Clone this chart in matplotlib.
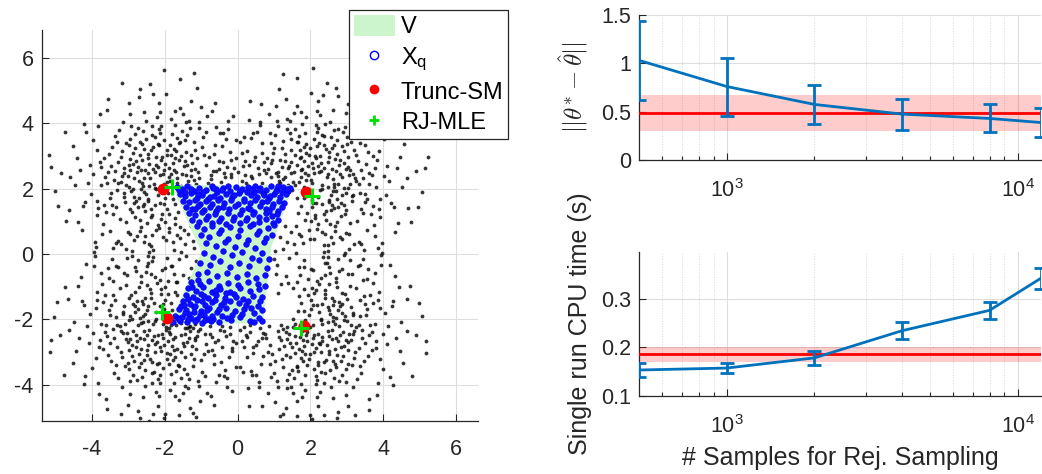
import matplotlib
matplotlib.use('Agg')
import matplotlib.pyplot as plt
from matplotlib.patches import Polygon, Patch
from matplotlib.lines import Line2D
from matplotlib.ticker import FixedLocator, NullFormatter

plt.rcParams['font.family'] = ['Liberation Sans', 'DejaVu Sans']
plt.rcParams['axes.unicode_minus'] = False
plt.rcParams['mathtext.fontset'] = 'cm'

# ---------------- data: left panel ----------------
V_x = [-1.81, 1.53, 0.93, 0.70, -1.86, -0.99]
V_y = [2.10, 2.10, 0.22, -2.12, -2.12, 0.05]

trunc_sm_x = [-2.06, 1.87, -1.95, 1.82]
trunc_sm_y = [2.00, 1.88, -1.94, -2.20]
rj_mle_x = [-1.81, 2.05, -2.07, 1.75]
rj_mle_y = [2.04, 1.78, -1.78, -2.27]

cloud_nw = [(-2.13,2.41),(-1.62,2.87),(-2.85,1.73),(-3.12,2.64),(-1.94,1.38),(-2.47,3.05),(-1.28,2.55),(-2.71,2.22),(-3.46,1.51),(-2.02,3.48),
(-2.38,1.12),(-1.75,3.21),(-2.96,2.91),(-3.63,2.35),(-2.25,0.74),(-1.41,3.12),(-2.61,1.46),(-3.05,3.38),(-1.88,2.63),(-2.54,2.58),
(-3.31,1.94),(-1.12,2.94),(-2.19,1.79),(-2.83,3.67),(-1.67,2.31),(-3.78,2.81),(-2.42,0.31),(-0.86,2.73),(-2.07,2.96),(-3.22,1.08),
(-1.52,3.76),(-2.66,1.97),(-4.11,2.17),(-2.34,3.92),(-1.98,1.71),(-3.01,0.66),(-0.62,3.34),(-2.77,2.49),(-1.83,4.12),(-3.54,3.06),
(-2.29,2.15),(-1.36,2.24),(-3.87,1.62),(-2.58,4.35),(-1.71,1.09),(-4.42,2.92),(-2.91,1.27),(-0.95,3.58),(-3.38,2.27),(-2.05,0.51),
(-1.47,2.69),(-2.45,1.62),(-3.15,4.02),(-0.41,2.81),(-2.89,0.08),(-1.93,3.19),(-3.69,0.93),(-2.17,4.61),(-1.21,3.41),(-2.63,2.86),
(-3.97,3.47),(-2.35,-0.22),(-1.58,4.45),(-4.63,1.35),(-2.81,3.24),(-1.05,2.32),(-3.27,0.41),(-2.51,1.84),(-0.22,3.12),(-3.48,2.69),
(-1.79,2.06),(-2.72,4.78),(-4.28,0.72),(-2.24,2.73),(-1.33,4.06),(-3.09,1.58),(-0.73,2.41),(-3.82,3.92),(-1.89,0.79),(-2.97,2.05),
(-1.66,3.55),(-4.85,2.48),(-2.48,0.96),(-3.61,1.27),(-0.58,3.89),(-2.12,3.69),(-1.24,2.78),(-3.36,3.61),(-2.69,1.04),(-4.02,1.84),
(-1.96,4.88),(-2.83,-0.41),(-0.35,2.34),(-3.19,2.96),(-1.71,1.52),(-2.33,3.27),(-3.74,2.11),(-1.07,3.86),(-2.56,2.33),(-4.51,3.31),
(-2.08,1.23),(-3.42,0.17),(-1.42,2.42),(-2.94,4.27),(-0.11,2.63),(-3.85,1.18),(-2.26,2.02),(-1.72,3.93),(-3.13,1.86),(-2.41,5.18),
(-4.33,2.58),(-1.18,3.18),(-2.76,0.55),(-0.83,4.21),(-3.57,2.51),(-2.19,3.35),(-1.54,2.98),(-3.92,0.38),(-2.61,3.75),(-1.87,2.35),
(-5.02,1.93),(-2.99,2.71),(-0.49,3.68),(-2.37,1.36),(-3.26,3.78),(-1.29,4.68),(-2.85,1.55),(-4.16,3.72),(-2.03,2.58),(-3.51,1.72),
(-1.61,3.38),(-2.74,2.67),(0.08,3.42),(-3.03,-0.13),(-2.22,4.19),(-1.95,2.21),(-3.67,2.93),(-2.52,3.51),(-1.16,2.61),(-4.71,1.02),
(-2.87,3.09),(-2.31,0.12),(-0.91,3.02),(-3.34,1.43),(-2.16,3.81),(-1.78,2.79),(-4.24,1.47),(-2.59,2.09),(-1.38,3.64),(-3.45,3.28),
(-2.65,-0.68),(-0.67,2.52),(-3.96,2.44),(-2.11,2.87),(-2.93,1.91),(-1.49,4.27),(-3.73,0.61),(-2.43,2.76),(-0.26,4.05),(-3.18,2.37),
(-1.83,3.02),(-2.79,1.62),(-4.47,2.11),(-2.27,3.58),(-1.32,2.07),(-3.59,4.41),(-2.01,5.62),(-2.68,3.42),(-1.01,4.48),(-3.29,2.18),
(-2.47,1.69),(-5.18,3.02),(-1.69,2.51),(-2.95,3.52),(-3.83,1.41),
(-1.85,2.22),(-1.52,2.45),(-2.32,2.61),(-2.58,1.88),(-1.99,2.74),(-2.41,2.31),(-2.79,2.83),(-1.74,2.58),(-2.12,1.57),(-2.66,2.56),
(-1.91,1.86),(-2.24,2.97),(-3.02,2.38),(-1.45,2.83),(-2.53,1.32),(-2.02,2.13),(-2.88,1.98),(-1.66,2.16),(-2.39,3.19),(-3.21,2.19),
(-1.78,1.69),(-2.15,3.34),(-2.71,1.71),(-1.27,3.02),(-2.94,2.58),(-1.98,0.98),(-2.47,2.92),(-3.37,2.53),(-1.59,3.41),(-2.28,1.49),
(-1.81,3.66),(-2.62,3.36),(-3.12,1.74),(-1.09,2.49),(-2.06,2.43),(-2.85,2.32),(-1.63,1.27),(-2.44,2.07),(-3.48,1.86),(-1.93,3.03),
(-2.69,3.02),(-1.38,2.71),(-2.19,0.88),(-3.16,3.14),(-1.72,2.92),(-2.57,1.53),(-0.98,3.27),(-2.34,3.63),(-3.28,2.81),(-1.88,1.21),
(-2.81,1.13),(-1.54,2.08),(-2.11,3.92),(-3.59,2.17),(-1.21,2.25),(-2.64,0.82),(-1.69,3.14),(-2.98,3.32),(-2.23,1.98),(-1.45,3.48),
(-3.41,1.23),(-2.51,4.06),(-0.79,2.96),(-1.96,0.42),(-2.88,2.76),(-1.61,1.73),(-3.75,2.66),(-2.18,2.66),(-1.32,3.85),(-2.74,1.45),
(-2.03,1.52),(-3.06,2.11),(-1.83,2.43),(-2.36,0.58),(-0.64,3.06),(-2.93,3.91),(-1.57,0.82),(-3.32,3.42),(-2.46,2.47),(-1.14,2.13),
(-2.09,1.06),(-3.68,1.49),(-1.71,4.37),(-2.56,3.21),(-1.28,2.37),(-3.05,0.97),(-2.27,2.49),(-0.52,2.61),(-2.73,3.85),(-4.06,2.72),
(-1.47,1.92),(-2.35,1.18),(-3.13,2.46),(-1.85,3.33),(-2.62,2.16),(-4.19,1.58),(-0.87,3.74),(-2.14,4.33),(-3.51,0.71),(-1.67,0.58),
(-2.95,1.37),(-1.41,4.02),(-2.44,0.05),(-3.86,3.19),(-1.05,4.02),(-2.31,4.89),(-4.61,2.34),(-0.33,3.52),(-3.33,-0.36),(-2.67,5.03),
(-1.77,0.37),(-4.37,0.98),(-0.18,2.44),(-3.78,4.28),(-1.12,5.08),(-2.99,4.61),(-4.93,1.48),(0.21,2.83),(-2.52,-0.55),(-3.56,4.73),
(-1.59,5.35),(-5.11,2.65),(-0.62,4.61),(-4.21,3.97),(-2.14,-0.78),(-3.91,-0.07),(0.42,3.71),(-4.75,3.72),(-1.21,5.52),(-3.17,5.21)]

cloud_ne = [(2.24,2.51),(1.71,2.93),(2.86,1.81),(3.09,2.57),(2.03,1.42),(2.52,3.11),(1.38,2.62),(2.77,2.15),(3.51,1.58),(2.11,3.52),
(2.43,1.05),(1.82,3.28),(3.02,2.96),(3.68,2.41),(2.31,0.68),(1.47,3.17),(2.66,1.41),(3.11,3.43),(1.93,2.68),(2.58,2.61),
(3.37,1.87),(1.16,2.88),(2.21,1.73),(2.89,3.72),(1.73,2.36),(3.83,2.87),(2.48,0.27),(0.91,2.77),(2.12,2.98),(3.27,1.02),
(1.58,3.81),(2.71,1.93),(4.15,2.23),(2.39,3.96),(2.04,1.66),(3.06,0.61),(0.66,3.38),(2.82,2.44),(1.88,4.17),(3.59,3.12),
(2.33,2.12),(1.52,2.21),(3.92,1.68),(2.63,4.41),(1.84,1.05),(4.47,2.97),(2.96,1.22),(1.02,3.63),(3.43,2.32),(2.11,0.46),
(1.63,2.73),(2.51,1.58),(3.19,4.08),(0.45,2.84),(2.94,0.03),(1.98,3.23),(3.74,0.88),(2.22,4.66),(1.26,3.46),(2.68,2.91),
(4.01,3.52),(2.41,-0.27),(1.62,4.51),(4.68,1.39),(2.86,3.29),(1.12,2.37),(3.32,0.36),(2.56,1.79),(0.27,3.16),(3.53,2.74),
(1.81,2.04),(2.77,4.83),(4.33,0.67),(2.29,2.78),(1.37,4.11),(3.14,1.63),(0.78,2.46),(3.87,3.97),(1.95,0.74),(3.02,2.01),
(1.69,3.59),(4.91,2.53),(2.53,0.91),(3.66,1.22),(0.61,3.94),(2.17,3.74),(1.29,2.83),(3.41,3.66),(2.74,0.99),(4.07,1.79),
(2.01,4.93),(2.88,-0.46),(0.38,2.39),(3.24,3.01),(1.75,1.47),(2.38,3.32),(3.79,2.06),(1.11,3.91),(2.61,2.28),(4.56,3.36),
(2.13,1.18),(3.47,0.12),(1.46,2.47),(2.99,4.32),(0.14,2.68),(3.91,1.13),(2.31,1.97),(1.77,3.98),(3.18,1.81),(2.46,5.23),
(4.38,2.63),(1.23,3.23),(2.81,0.51),(0.87,4.26),(3.62,2.46),(2.24,3.39),(1.59,3.03),(3.97,0.33),(2.66,3.79),(1.92,2.41),
(5.07,1.88),(3.04,2.66),(0.53,3.73),(2.42,1.31),(3.31,3.83),(1.33,4.73),(2.91,1.51),(4.21,3.77),(2.08,2.63),(3.56,1.67),
(1.66,3.43),(2.79,2.72),(-0.04,3.47),(3.08,-0.18),(2.27,4.24),(2.01,2.26),(3.72,2.98),(2.57,3.56),(1.21,2.66),(4.76,0.97),
(2.92,3.14),(2.36,0.07),(0.96,3.07),(3.39,1.38),(2.21,3.86),(1.83,2.84),(4.29,1.42),(2.64,2.04),(1.43,3.69),(3.51,3.33),
(2.71,-0.73),(0.72,2.57),(4.01,2.39),(2.16,2.92),(2.98,1.86),(1.54,4.32),(3.78,0.56),(2.48,2.81),(0.31,4.09),(3.23,2.32),
(1.88,3.07),(2.84,1.57),(4.52,2.06),(2.32,3.63),(1.38,2.12),(3.64,4.46),(2.06,5.67),(2.73,3.47),(1.06,4.53),(3.34,2.13),
(2.52,1.64),(5.23,2.97),(1.74,2.56),(3.01,3.57),(3.88,1.36),
(1.88,2.27),(1.55,2.49),(2.36,2.63),(2.61,1.91),(2.03,2.77),(2.45,2.34),(2.82,2.86),(1.77,2.61),(2.16,1.55),(2.69,2.53),
(1.95,1.88),(2.27,2.99),(3.05,2.41),(1.48,2.81),(2.56,1.35),(2.05,2.16),(2.91,2.01),(1.69,2.19),(2.42,3.21),(3.24,2.22),
(1.81,1.72),(2.18,3.31),(2.74,1.68),(1.31,3.05),(2.97,2.61),(2.01,1.01),(2.5,2.95),(3.4,2.56),(1.62,3.43),(2.31,1.52),
(1.84,3.68),(2.65,3.33),(3.15,1.77),(1.12,2.51),(2.09,2.46),(2.88,2.35),(1.66,1.24),(2.47,2.04),(3.51,1.83),(1.96,3.01),
(2.72,3.05),(1.41,2.68),(2.22,0.91),(3.19,3.17),(1.75,2.95),(2.6,1.5),(1.01,3.24),(2.37,3.61),(3.31,2.84),(1.91,1.24),
(2.84,1.16),(1.57,2.11),(2.14,3.95),(3.62,2.14),(1.24,2.28),(2.67,0.85),(1.72,3.17),(3.01,3.35),(2.26,1.95),(1.48,3.51),
(3.44,1.26),(2.54,4.03),(0.82,2.93),(1.99,0.45),(2.91,2.79),(1.64,1.71),(3.78,2.63),(2.21,2.69),(1.35,3.82),(2.77,1.42),
(2.06,1.55),(3.09,2.14),(1.86,2.46),(2.39,0.61),(0.67,3.09),(2.96,3.88),(1.6,0.85),(3.35,3.39),(2.49,2.44),(1.17,2.16),
(2.12,1.09),(3.71,1.46),(1.74,4.34),(2.59,3.24),(1.31,2.34),(3.08,0.94),(2.3,2.52),(0.55,2.64),(2.76,3.82),(4.09,2.69),
(1.5,1.95),(2.38,1.21),(3.16,2.43),(1.88,3.36),(2.65,2.13),(4.22,1.55),(0.9,3.71),(2.17,4.36),(3.54,0.74),(1.7,0.61),
(2.98,1.34),(1.44,4.05),(2.47,0.08),(3.89,3.16),(1.08,4.05),(2.34,4.86),(4.64,2.31),(0.36,3.55),(3.36,-0.33),(2.7,5.06),
(1.8,0.34),(4.4,0.95),(0.21,2.41),(3.81,4.25),(1.15,5.05),(3.02,4.58),(4.96,1.45),(-0.18,2.86),(2.55,-0.58),(3.59,4.7),
(1.62,5.38),(5.14,2.62),(0.65,4.58),(4.24,3.94),(2.17,-0.81),(3.94,-0.04),(-0.39,3.68),(4.78,3.69),(1.24,5.49),(3.2,5.18)]

cloud_sw = [(-2.19,-2.46),(-1.67,-2.91),(-2.83,-1.77),(-3.06,-2.61),(-1.99,-1.41),(-2.49,-3.08),(-1.33,-2.58),(-2.74,-2.18),(-3.48,-1.55),(-2.06,-3.49),
(-2.41,-1.08),(-1.78,-3.24),(-2.99,-2.93),(-3.65,-2.38),(-2.28,-0.71),(-1.44,-3.14),(-2.63,-1.43),(-3.08,-3.41),(-1.91,-2.65),(-2.56,-2.59),
(-3.34,-1.91),(-1.14,-2.91),(-2.23,-1.76),(-2.86,-3.69),(-1.96,-2.33),(-3.81,-2.84),(-2.45,-0.29),(-0.88,-2.75),(-2.09,-2.97),(-3.24,-1.05),
(-1.55,-3.79),(-2.69,-1.95),(-4.13,-2.19),(-2.36,-3.94),(-2.01,-1.69),(-3.03,-0.63),(-0.64,-3.36),(-2.79,-2.47),(-1.85,-4.15),(-3.56,-3.09),
(-2.31,-2.13),(-1.39,-2.27),(-3.89,-1.65),(-2.6,-4.38),(-1.73,-1.16),(-4.44,-2.95),(-2.93,-1.24),(-0.97,-3.61),(-3.41,-2.29),(-2.07,-0.49),
(-1.49,-2.71),(-2.47,-1.6),(-3.17,-4.05),(-0.43,-2.83),(-2.91,-0.06),(-1.95,-3.21),(-3.71,-0.91),(-2.19,-4.63),(-1.23,-3.43),(-2.65,-2.89),
(-3.99,-3.49),(-2.37,0.24),(-1.61,-4.47),(-4.65,-1.37),(-2.84,-3.27),(-1.08,-2.35),(-3.29,-0.39),(-2.53,-1.82),(-0.24,-3.14),(-3.5,-2.71),
(-1.82,-2.17),(-2.74,-4.8),(-4.3,-0.7),(-2.26,-2.75),(-1.35,-4.08),(-3.11,-1.6),(-0.75,-2.43),(-3.84,-3.94),(-1.91,-0.81),(-2.99,-2.03),
(-1.68,-3.57),(-4.87,-2.46),(-2.5,-0.94),(-3.63,-1.25),(-0.6,-3.91),(-2.14,-3.71),(-1.26,-2.8),(-3.38,-3.63),(-2.71,-1.02),(-4.04,-1.82),
(-1.98,-4.9),(-2.85,0.43),(-0.37,-2.36),(-3.21,-2.98),(-1.82,-1.5),(-2.35,-3.29),(-3.76,-2.13),(-1.09,-3.88),(-2.58,-2.35),(-4.53,-3.33),
(-2.1,-1.21),(-3.44,-0.15),(-1.44,-2.44),(-2.96,-4.29),(-0.13,-2.65),(-3.87,-1.16),(-2.28,-2.04),(-1.74,-3.95),(-3.15,-1.84),(-2.43,-5.1),
(-4.35,-2.56),(-1.2,-3.2),(-2.78,-0.53),(-0.85,-4.23),(-3.59,-2.49),(-2.21,-3.37),(-1.56,-3.0),(-3.94,-0.36),(-2.63,-3.77),(-1.89,-2.37),
(-5.04,-1.91),(-3.01,-2.69),(-0.51,-3.7),(-2.39,-1.34),(-3.28,-3.8),(-1.31,-4.7),(-2.87,-1.53),(-4.18,-3.74),(-2.05,-2.56),(-3.53,-1.7),
(-1.63,-3.4),(-2.76,-2.65),(0.06,-3.44),(-3.05,0.15),(-2.24,-4.21),(-1.97,-2.23),(-3.69,-2.91),(-2.54,-3.53),(-1.18,-2.63),(-4.73,-1.0),
(-2.89,-3.11),(-2.33,-0.1),(-0.93,-3.04),(-3.36,-1.41),(-2.18,-3.83),(-1.8,-2.81),(-4.26,-1.45),(-2.61,-2.07),(-1.4,-3.66),(-3.47,-3.26),
(-2.67,0.7),(-0.69,-2.54),(-3.98,-2.42),(-2.13,-2.85),(-2.95,-1.89),(-1.51,-4.25),(-3.75,-0.59),(-2.45,-2.78),(-0.28,-4.07),(-3.2,-2.35),
(-1.85,-3.04),(-2.81,-1.6),(-4.49,-2.09),(-2.29,-3.6),(-1.34,-2.24),(-3.61,-4.43),(-2.03,-5.0),(-2.7,-3.44),(-1.03,-4.5),(-3.31,-2.16),
(-2.49,-1.71),(-5.15,-3.0),(-1.71,-2.53),(-2.97,-3.5),(-3.85,-1.39),
(-1.88,-2.25),(-1.55,-2.47),(-2.34,-2.64),(-2.6,-1.9),(-2.01,-2.77),(-2.43,-2.33),(-2.8,-2.85),(-1.76,-2.6),(-2.14,-1.59),(-2.68,-2.55),
(-1.93,-1.87),(-2.26,-2.98),(-3.04,-2.4),(-1.47,-2.82),(-2.55,-1.34),(-2.04,-2.15),(-2.9,-2.0),(-1.68,-2.18),(-2.41,-3.2),(-3.23,-2.21),
(-1.8,-1.71),(-2.17,-3.32),(-2.73,-1.69),(-1.29,-3.04),(-2.96,-2.6),(-2.0,-1.0),(-2.49,-2.94),(-3.39,-2.55),(-1.61,-3.42),(-2.3,-1.51),
(-1.83,-3.67),(-2.64,-3.34),(-3.14,-1.76),(-1.11,-2.5),(-2.08,-2.45),(-2.87,-2.34),(-1.65,-1.25),(-2.46,-2.06),(-3.5,-1.85),(-1.95,-3.02),
(-2.71,-3.04),(-1.4,-2.7),(-2.21,-0.9),(-3.18,-3.16),(-1.74,-2.94),(-2.59,-1.52),(-1.0,-3.25),(-2.36,-3.62),(-3.3,-2.83),(-1.9,-1.23),
(-2.83,-1.15),(-1.56,-2.1),(-2.13,-3.93),(-3.61,-2.16),(-1.23,-2.27),(-2.66,-0.84),(-1.71,-3.16),(-3.0,-3.34),(-2.25,-1.97),(-1.47,-3.5),
(-3.43,-1.25),(-2.53,-4.04),(-0.81,-2.95),(-1.98,-0.44),(-2.9,-2.78),(-1.63,-1.72),(-3.77,-2.64),(-2.2,-2.68),(-1.34,-3.83),(-2.76,-1.44),
(-2.05,-1.54),(-3.08,-2.13),(-1.85,-2.45),(-2.38,-0.6),(-0.66,-3.08),(-2.95,-3.89),(-1.69,-0.84),(-3.34,-3.4),(-2.48,-2.46),(-1.16,-2.15),
(-2.11,-1.08),(-3.7,-1.48),(-1.73,-4.35),(-2.58,-3.23),(-1.3,-2.36),(-3.07,-0.96),(-2.29,-2.51),(-0.54,-2.63),(-2.75,-3.84),(-4.08,-2.71),
(-1.86,-1.96),(-2.37,-1.2),(-3.15,-2.42),(-1.87,-3.35),(-2.64,-2.12),(-4.21,-1.56),(-0.89,-3.72),(-2.16,-4.35),(-3.53,-0.72),(-1.75,-0.6),
(-2.97,-1.35),(-1.43,-4.04),(-2.46,-0.07),(-3.88,-3.18),(-1.07,-4.04),(-2.33,-4.88),(-4.63,-2.33),(-0.35,-3.54),(-3.35,0.34),(-2.69,-5.0),
(-1.79,-0.36),(-4.39,-0.97),(-0.2,-2.43),(-3.8,-4.27),(-1.14,-4.98),(-3.01,-4.6),(-4.95,-1.47),(0.19,-2.85),(-2.54,0.56),(-3.58,-4.72),
(-1.61,-4.92),(-5.13,-2.64),(-0.64,-4.6),(-4.23,-3.96),(-2.16,0.8),(-3.93,0.06),(0.4,-3.7),(-4.77,-3.71),(-1.23,-4.85),(-3.19,-4.9)]

cloud_se = [(2.21,-2.43),(1.69,-2.89),(2.88,-1.79),(3.11,-2.62),(2.01,-1.39),(2.5,-3.06),(1.35,-2.6),(2.79,-2.2),(3.49,-1.53),(2.09,-3.5),
(2.4,-1.1),(1.8,-3.26),(3.04,-2.94),(3.7,-2.39),(2.29,-0.72),(1.45,-3.16),(2.64,-1.44),(3.13,-3.4),(1.9,-2.66),(2.59,-2.6),
(3.35,-1.89),(1.13,-2.9),(2.24,-1.77),(2.87,-3.71),(1.76,-2.34),(3.8,-2.86),(2.46,-0.28),(0.9,-2.77),(2.1,-2.99),(3.25,-1.04),
(1.56,-3.8),(2.7,-1.96),(4.12,-2.2),(2.37,-3.95),(2.02,-1.67),(3.04,-0.62),(0.63,-3.37),(2.8,-2.46),(1.86,-4.16),(3.57,-3.1),
(2.32,-2.14),(1.53,-2.24),(3.9,-1.66),(2.61,-4.39),(1.81,-1.07),(4.45,-2.96),(2.94,-1.23),(0.99,-3.62),(3.42,-2.31),(2.08,-0.48),
(1.6,-2.72),(2.49,-1.61),(3.18,-4.06),(0.42,-2.84),(2.92,-0.04),(1.96,-3.22),(3.72,-0.9),(2.2,-4.64),(1.24,-3.44),(2.67,-2.9),
(4.0,-3.5),(2.38,0.26),(1.63,-4.48),(4.66,-1.38),(2.85,-3.28),(1.1,-2.36),(3.3,-0.38),(2.55,-1.83),(0.25,-3.15),(3.51,-2.72),
(1.84,-2.02),(2.75,-4.81),(4.31,-0.68),(2.27,-2.76),(1.36,-4.09),(3.12,-1.62),(0.76,-2.44),(3.85,-3.95),(1.93,-0.76),(3.0,-2.04),
(1.67,-3.58),(4.89,-2.47),(2.51,-0.93),(3.64,-1.24),(0.58,-3.92),(2.15,-3.72),(1.27,-2.81),(3.39,-3.64),(2.72,-1.01),(4.05,-1.81),
(1.99,-4.91),(2.86,0.45),(0.35,-2.37),(3.22,-2.99),(1.73,-1.49),(2.36,-3.3),(3.77,-2.14),(1.08,-3.89),(2.6,-2.33),(4.54,-3.34),
(2.11,-1.2),(3.45,-0.14),(1.42,-2.45),(2.97,-4.3),(0.12,-2.66),(3.88,-1.15),(2.29,-2.03),(1.75,-3.96),(3.16,-1.85),(2.44,-5.12),
(4.36,-2.57),(1.21,-3.21),(2.79,-0.52),(0.84,-4.24),(3.6,-2.48),(2.22,-3.38),(1.57,-3.01),(3.95,-0.35),(2.64,-3.78),(1.9,-2.38),
(5.05,-1.9),(3.02,-2.68),(0.5,-3.71),(2.4,-1.33),(3.29,-3.81),(1.32,-4.71),(2.88,-1.52),(4.19,-3.75),(2.06,-2.57),(3.54,-1.69),
(1.64,-3.41),(2.77,-2.66),(-0.05,-3.45),(3.06,0.16),(2.25,-4.22),(1.98,-2.24),(3.7,-2.92),(2.55,-3.54),(1.19,-2.64),(4.74,-0.99),
(2.9,-3.12),(2.34,-0.09),(0.94,-3.05),(3.37,-1.4),(2.19,-3.84),(1.81,-2.82),(4.27,-1.44),(2.62,-2.06),(1.41,-3.67),(3.48,-3.27),
(2.68,0.71),(0.68,-2.55),(3.99,-2.43),(2.14,-2.86),(2.96,-1.88),(1.52,-4.26),(3.76,-0.58),(2.46,-2.79),(0.29,-4.08),(3.21,-2.36),
(1.86,-3.05),(2.82,-1.59),(4.5,-2.08),(2.3,-3.61),(1.35,-2.23),(3.62,-4.44),(2.04,-5.05),(2.71,-3.45),(1.04,-4.51),(3.32,-2.17),
(2.5,-1.7),(5.16,-3.01),(1.72,-2.54),(2.98,-3.51),(3.86,-1.4),
(1.86,-2.23),(1.57,-2.5),(2.33,-2.66),(2.63,-1.92),(2.04,-2.75),(2.47,-2.36),(2.83,-2.84),(1.79,-2.63),(2.19,-1.57),(2.7,-2.57),
(1.97,-1.85),(2.29,-3.0),(3.07,-2.43),(1.5,-2.84),(2.58,-1.33),(2.07,-2.18),(2.93,-2.03),(1.71,-2.2),(2.44,-3.23),(3.26,-2.24),
(1.83,-1.74),(2.2,-3.29),(2.76,-1.71),(1.33,-3.07),(2.99,-2.63),(2.03,-1.03),(2.52,-2.97),(3.42,-2.58),(1.64,-3.45),(2.33,-1.54),
(1.86,-3.7),(2.67,-3.36),(3.17,-1.79),(1.14,-2.53),(2.11,-2.48),(2.9,-2.37),(1.68,-1.27),(2.49,-2.09),(3.53,-1.87),(1.98,-3.04),
(2.74,-3.07),(1.43,-2.73),(2.24,-0.93),(3.21,-3.19),(1.77,-2.97),(2.62,-1.55),(1.03,-3.28),(2.39,-3.64),(3.33,-2.86),(1.93,-1.26),
(2.86,-1.18),(1.59,-2.13),(2.16,-3.97),(3.64,-2.18),(1.26,-2.3),(2.69,-0.87),(1.74,-3.19),(3.03,-3.37),(2.28,-1.99),(1.5,-3.53),
(3.46,-1.28),(2.56,-4.07),(0.84,-2.98),(2.01,-0.47),(2.93,-2.81),(1.66,-1.74),(3.8,-2.67),(2.23,-2.71),(1.37,-3.86),(2.79,-1.47),
(2.08,-1.57),(3.11,-2.16),(1.88,-2.48),(2.41,-0.63),(0.69,-3.11),(2.98,-3.92),(1.62,-0.87),(3.37,-3.43),(2.51,-2.49),(1.19,-2.18),
(2.14,-1.11),(3.73,-1.51),(1.76,-4.38),(2.61,-3.26),(1.33,-2.39),(3.1,-0.99),(2.32,-2.54),(0.57,-2.66),(2.78,-3.87),(4.11,-2.74),
(1.52,-1.98),(2.4,-1.23),(3.18,-2.45),(1.9,-3.38),(2.67,-2.15),(4.24,-1.59),(0.92,-3.75),(2.19,-4.38),(3.56,-0.75),(1.72,-0.63),
(3.0,-1.38),(1.46,-4.07),(2.49,-0.1),(3.91,-3.21),(1.1,-4.07),(2.36,-4.91),(4.66,-2.36),(0.38,-3.57),(3.38,0.31),(2.72,-5.02),
(1.82,-0.39),(4.42,-1.0),(0.23,-2.46),(3.83,-4.3),(1.17,-4.95),(3.04,-4.63),(4.98,-1.5),(-0.16,-2.88),(2.57,0.53),(3.61,-4.75),
(1.64,-4.95),(5.16,-2.67),(0.67,-4.63),(4.26,-3.99),(2.19,0.77),(3.96,0.03),(-0.37,-3.73),(4.8,-3.74),(1.26,-4.88),(3.22,-4.93)]

cloud_between = [(-1.45,0.31),(-1.28,-0.42),(-1.62,-0.15),(-1.36,0.62),(-1.74,0.12),(-1.19,0.18),(-1.51,-0.63),(-1.83,-0.38),(-1.29,0.87),(-1.58,0.49),
(-1.15,-0.21),(-1.67,-0.86),(-1.42,-0.07),(-1.88,0.66),(-1.33,-0.74),(-1.71,0.93),(-1.22,0.41),(-1.55,0.05),(-1.93,-0.12),(-1.47,0.74),
(1.25,0.14),(1.08,-0.35),(1.42,-0.12),(1.17,0.52),(1.55,0.31),(1.02,0.08),(1.33,-0.67),(1.68,-0.41),(1.19,-0.93),(1.47,0.68),
(1.05,-0.62),(1.61,0.02),(1.29,0.86),(1.74,0.55),(1.12,-1.18),(1.39,-0.89),(1.83,-0.17),(0.99,-0.15),(1.52,-1.05),(1.36,0.36),
(-0.72,2.28),(-0.45,2.19),(-0.18,2.35),(0.11,2.22),(0.39,2.31),(0.66,2.18),(0.93,2.36),(1.14,2.24),(-0.58,2.52),(-0.29,2.66),
(0.02,2.49),(0.31,2.72),(0.58,2.44),(0.84,2.61),(1.05,2.47),(-0.81,2.17),(-0.04,2.93),(0.47,2.96),(-0.51,2.84),(0.72,2.81),
(0.24,2.16),(-0.36,2.46),(0.95,2.88),(0.13,3.09),
(-1.31,-2.21),(-1.04,-2.29),(-0.77,-2.19),(-0.49,-2.33),(-0.21,-2.22),(0.08,-2.31),(0.35,-2.18),(0.62,-2.27),(0.87,-2.2),(-1.18,-2.55),
(-0.89,-2.43),(-0.62,-2.68),(-0.33,-2.49),(-0.05,-2.71),(0.26,-2.52),(0.51,-2.77),(0.79,-2.58),(-0.71,-2.92),(-0.16,-2.96),(0.41,-3.02),
(-1.45,-2.26),(0.18,-2.24),(-0.42,-2.19),(0.69,-2.41),
(-3.21,0.32),(-2.74,-0.18),(-3.55,-0.44),(-2.96,0.61),(-3.88,0.22),(-2.58,0.38),(-3.42,-0.81),(-4.15,-0.32),(-3.12,-0.58),(-2.49,-0.36),
(3.19,0.29),(2.77,-0.15),(3.58,-0.47),(2.99,0.64),(3.85,0.19),(2.61,0.35),(3.45,-0.78),(4.18,-0.35),(3.15,-0.61),(2.52,-0.39),
(-0.44,3.31),(0.18,3.58),(-0.12,4.21),(0.62,4.02),(-0.71,4.38),(0.33,4.66),(0.91,3.38),(-0.27,3.83),
(-0.46,-3.29),(0.15,-3.61),(-0.14,-4.18),(0.6,-4.05),(-0.73,-4.35),(0.31,-4.63),(0.89,-3.35),(-0.29,-3.8)]

xq_points = [(-1.65,2.05),(-1.52,1.98),(-1.38,2.07),(-1.21,1.91),(-1.05,2.03),(-0.88,1.95),(-0.71,2.08),(-0.56,1.88),(-0.39,2.01),(-0.22,1.93),
(-0.05,2.06),(0.12,1.97),(0.28,2.04),(0.44,1.89),(0.61,2.02),(0.77,1.94),(0.93,2.07),(1.09,1.99),(1.25,2.05),(1.38,1.92),
(-1.58,1.83),(-1.43,1.76),(-1.29,1.85),(-1.12,1.72),(-0.97,1.81),(-0.81,1.69),(-0.64,1.78),(-0.47,1.71),(-0.31,1.84),(-0.14,1.74),
(0.03,1.86),(0.19,1.68),(0.36,1.79),(0.52,1.73),(0.69,1.87),(0.85,1.71),(1.01,1.82),(1.17,1.75),(1.32,1.84),(1.45,2.01),
(-1.49,1.63),(-1.34,1.58),(-1.18,1.66),(-1.02,1.54),(-0.86,1.61),(-0.69,1.52),(-0.53,1.64),(-0.36,1.57),(-0.18,1.65),(0.01,1.53),
(0.17,1.62),(0.33,1.55),(0.49,1.66),(0.66,1.58),(0.82,1.63),(0.98,1.52),(1.14,1.61),(1.28,1.55),(-1.62,1.95),(-1.27,2.0),
(-0.94,1.88),(-0.6,1.97),(-0.27,2.08),(0.07,1.92),(0.39,1.99),(0.72,1.8),(1.05,1.93),(1.35,1.98),(-1.45,1.9),(-1.1,1.82),
(-0.75,1.74),(-0.43,1.94),(-0.09,1.8),(0.25,1.9),(0.58,1.96),(0.9,1.77),(1.22,1.88),(-0.68,2.02),(0.47,2.07),(1.12,2.08),
(-1.41,1.45),(-1.25,1.38),(-1.08,1.47),(-0.92,1.34),(-0.77,1.42),(-0.59,1.31),(-0.41,1.44),(-0.24,1.36),(-0.06,1.48),(0.11,1.33),
(0.28,1.41),(0.45,1.29),(0.62,1.46),(0.79,1.37),(0.95,1.43),(1.11,1.32),(1.22,1.44),(-1.33,1.24),(-1.16,1.18),(-0.98,1.27),
(-0.8,1.15),(-0.63,1.22),(-0.45,1.11),(-0.27,1.26),(-0.1,1.14),(0.08,1.21),(0.25,1.09),(0.43,1.23),(0.6,1.12),(0.77,1.25),
(0.94,1.16),(1.09,1.21),(-1.24,1.04),(-1.07,0.98),(-0.88,1.06),(-0.69,0.94),(-0.5,1.01),(-0.31,0.92),(-0.12,1.03),(0.06,0.96),
(0.24,1.05),(0.41,0.91),(0.59,0.99),(0.78,1.07),(0.96,0.95),(1.1,1.04),(-1.18,1.36),(0.35,1.38),(0.87,1.3),(-0.55,1.4),
(-1.12,0.84),(-0.93,0.77),(-0.71,0.85),(-0.46,0.72),(-0.2,0.81),(0.07,0.74),(0.33,0.86),(0.58,0.7),(0.84,0.79),(1.0,0.88),
(-1.0,0.58),(-0.78,0.51),(-0.52,0.63),(-0.26,0.47),(0.02,0.56),(0.29,0.44),(0.54,0.61),(0.79,0.49),(0.95,0.57),(-0.88,0.33),
(-0.6,0.25),(-0.34,0.38),(-0.06,0.21),(0.22,0.31),(0.48,0.17),(0.73,0.36),(-0.93,0.04),(-0.67,-0.09),(-0.41,0.08),(-0.15,-0.04),
(0.12,0.06),(0.39,-0.11),(0.66,0.02),(0.85,-0.14),(-1.02,-0.28),(-0.76,-0.35),(-0.49,-0.22),(-0.22,-0.4),(0.05,-0.27),(0.31,-0.36),
(0.58,-0.19),(0.8,-0.42),(-1.1,-0.61),(-0.84,-0.54),(-0.57,-0.68),(-0.3,-0.57),(-0.02,-0.71),(0.25,-0.6),(0.51,-0.74),(0.74,-0.63),
(-1.28,-0.86),(-1.03,-0.93),(-0.78,-0.82),(-0.52,-0.97),(-0.26,-0.88),(0.01,-0.95),(0.28,-0.84),(0.55,-0.91),(0.76,-0.98),(-1.36,-1.05),
(-1.15,-1.12),(-0.94,-1.02),(-0.71,-1.15),(-0.47,-1.08),(-0.21,-1.17),(0.06,-1.04),(0.33,-1.13),(0.58,-1.06),(-1.42,-1.26),(-1.22,-1.31),
(-1.01,-1.22),(-0.81,-1.35),(-0.58,-1.24),(-0.35,-1.33),(-0.11,-1.21),(0.15,-1.36),(0.42,-1.27),(0.68,-1.32),(-1.5,-1.45),(-1.31,-1.52),
(-1.11,-1.41),(-0.9,-1.55),(-0.69,-1.46),(-0.45,-1.57),(-0.22,-1.43),(0.04,-1.51),(0.29,-1.44),(0.55,-1.58),(-1.6,-1.67),(-1.41,-1.72),
(-1.21,-1.62),(-1.0,-1.75),(-0.79,-1.66),(-0.56,-1.78),(-0.32,-1.64),(-0.07,-1.74),(0.19,-1.68),(0.45,-1.79),(0.66,-1.7),(-1.71,-1.88),
(-1.52,-1.93),(-1.33,-1.84),(-1.12,-1.97),(-0.91,-1.86),(-0.68,-1.99),(-0.44,-1.89),(-0.19,-2.03),(0.07,-1.91),(0.33,-2.04),(0.58,-1.95),
(-1.76,-2.07),(-1.57,-2.04),(-1.39,-2.09),(-1.18,-2.05),(-0.97,-2.1),(-0.74,-2.06),(-0.52,-2.08),(-0.28,-1.96),(0.46,-2.08),(0.68,-2.05),
(-1.25,-1.02),(-1.08,-0.78),(-0.92,-1.28),(-1.37,-1.38),(-0.62,-1.39),(-1.45,-1.81),(-1.27,-1.95),(-0.85,-1.72),(-1.64,-1.96),(-1.03,-1.86),
(-0.38,-1.48),(-0.15,-1.85),(0.22,-1.55),(-1.17,-1.58),(-0.97,-1.44),(-0.7,-1.88),(-1.55,-1.6),(-0.5,-1.69),(-1.35,-2.0),(-0.82,-1.97),
(-0.31,-1.2),(0.11,-1.82),(-1.2,-1.77),(-1.47,-1.55),(-0.6,-1.1),(-0.04,-1.3),(0.37,-1.65),(0.62,-1.45),(-1.6,-2.0),(-0.9,-2.03)]

left_ticks = [-4, -2, 0, 2, 4, 6]

# ---------------- data: right panels ----------------
n_samples = [500, 1000, 2000, 4000, 8000, 12000]
rj_err_mean = [1.03, 0.76, 0.575, 0.475, 0.43, 0.388]
rj_err_std = [0.41, 0.30, 0.205, 0.16, 0.145, 0.145]
sm_err_mean = 0.486
sm_err_std = 0.185

rj_time_mean = [0.153, 0.157, 0.178, 0.234, 0.276, 0.342]
rj_time_std = [0.014, 0.010, 0.014, 0.017, 0.018, 0.021]
sm_time_mean = 0.185
sm_time_std = 0.015

err_ticks = [0, 0.5, 1, 1.5]
err_ticklabels = ['0', '0.5', '1', '1.5']
time_ticks = [0.1, 0.2, 0.3]
time_ticklabels = ['0.1', '0.2', '0.3']

# ---------------- styling ----------------
DARK = '#262626'
GRID = '#dedede'
BLUE = '#0072BD'
GREEN_V = '#ccf5cc'
TICK_FS = 15.5
LABEL_FS = 18

fig = plt.figure(figsize=(10.42, 4.74), dpi=100)

def style_axes(ax):
    for s in ['top', 'right']:
        ax.spines[s].set_visible(False)
    for s in ['left', 'bottom']:
        ax.spines[s].set_color(DARK)
        ax.spines[s].set_linewidth(0.9)
    ax.tick_params(which='both', direction='in', colors=DARK, labelsize=TICK_FS, width=0.8)
    ax.tick_params(which='major', length=5)
    ax.tick_params(which='minor', length=3)
    ax.tick_params(axis='x', which='major', pad=13)
    ax.tick_params(axis='y', which='major', pad=6)
    ax.set_axisbelow(True)

# ---------- left panel ----------
ax1 = fig.add_axes([0.0403, 0.1118, 0.4184, 0.8249])
style_axes(ax1)
ax1.grid(True, color=GRID, linewidth=0.8)
for pts in (cloud_nw, cloud_ne, cloud_sw, cloud_se, cloud_between):
    ax1.scatter([p[0] for p in pts], [p[1] for p in pts], s=7.5, c='#111111',
                alpha=0.85, linewidths=0, zorder=1)
ax1.add_patch(Polygon(list(zip(V_x, V_y)), closed=True, facecolor=GREEN_V,
                      edgecolor='none', zorder=2))
ax1.scatter([p[0] for p in xq_points], [p[1] for p in xq_points], s=16,
            facecolors='#1010ff', edgecolors='#0000ff', linewidths=0.5, zorder=3)
ax1.plot(trunc_sm_x, trunc_sm_y, 'o', color='#ff0000', markersize=7.5, zorder=4)
ax1.plot(rj_mle_x, rj_mle_y, '+', color='#00e000', markersize=11, markeredgewidth=2.2, zorder=5)
ax1.set_xlim(-5.37, 6.6)
ax1.set_ylim(-5.1, 6.84)
ax1.set_xticks(left_ticks)
ax1.set_yticks(left_ticks)
ax1.set_xticklabels([str(t) for t in left_ticks])
ax1.set_yticklabels([str(t) for t in left_ticks])

handles = [Patch(facecolor=GREEN_V, edgecolor='none'),
           Line2D([], [], marker='o', linestyle='none', markerfacecolor='none',
                  markeredgecolor='#0000ff', markersize=6),
           Line2D([], [], marker='o', linestyle='none', color='#ff0000', markersize=6),
           Line2D([], [], marker='+', linestyle='none', color='#00e000', markersize=7,
                  markeredgewidth=2)]
labels = ['V', r'$\mathregular{X_q}$', 'Trunc-SM', 'RJ-MLE']
leg = ax1.legend(handles, labels, loc='upper left',
                 bbox_to_anchor=(349 / 1042, (474 - 10) / 474),
                 bbox_transform=fig.transFigure, borderaxespad=0,
                 fontsize=17, frameon=True, fancybox=False, framealpha=1,
                 edgecolor=DARK, borderpad=0.2, handlelength=1.75,
                 handleheight=1.0, handletextpad=0.25, labelspacing=0.3)
leg.get_frame().set_linewidth(0.9)
for t in leg.get_texts():
    t.set_color('black')

# ---------- right panels ----------
minor_x = [600, 700, 800, 900, 2000, 3000, 4000, 5000, 6000, 7000, 8000, 9000]

def style_log(ax):
    style_axes(ax)
    ax.set_xscale('log')
    ax.set_xlim(500, 12000)
    ax.set_xticks([1000, 10000])
    ax.xaxis.set_minor_locator(FixedLocator(minor_x))
    ax.xaxis.set_minor_formatter(NullFormatter())
    ax.tick_params(axis='x', which='major', pad=14)
    ax.grid(True, which='major', color=GRID, linewidth=0.8)
    ax.grid(True, which='minor', axis='x', color='#d8d8d8', linewidth=0.7, linestyle=':')

ax2 = fig.add_axes([0.6135, 0.6624, 0.3853, 0.306])
style_log(ax2)
ax2.fill_between([500, 12000], [sm_err_mean - sm_err_std] * 2, [sm_err_mean + sm_err_std] * 2,
                 color='#ff0000', alpha=0.2, linewidth=0, zorder=2)
ax2.axhline(sm_err_mean, color='#ff0000', linewidth=2, zorder=3)
ax2.errorbar(n_samples, rj_err_mean, yerr=rj_err_std, color=BLUE, linewidth=2,
             elinewidth=2, capsize=5, capthick=2, zorder=4)
ax2.set_ylim(0, 1.5)
ax2.set_yticks(err_ticks)
ax2.set_yticklabels(err_ticklabels)
ax2.set_ylabel(r'$||\theta^{*}-\hat{\theta}||$', fontsize=LABEL_FS, color=DARK, labelpad=8)

ax3 = fig.add_axes([0.6135, 0.1652, 0.3853, 0.3038])
style_log(ax3)
ax3.fill_between([500, 12000], [sm_time_mean - sm_time_std] * 2, [sm_time_mean + sm_time_std] * 2,
                 color='#ff0000', alpha=0.2, linewidth=0, zorder=2)
ax3.axhline(sm_time_mean, color='#ff0000', linewidth=2, zorder=3)
ax3.errorbar(n_samples, rj_time_mean, yerr=rj_time_std, color=BLUE, linewidth=2,
             elinewidth=2, capsize=5, capthick=2, zorder=4)
ax3.set_ylim(0.1, 0.397)
ax3.set_yticks(time_ticks)
ax3.set_yticklabels(time_ticklabels)
ax3.set_ylabel('Single run CPU time (s)', fontsize=LABEL_FS, color=DARK, labelpad=6)
ax3.set_xlabel('# Samples for Rej. Sampling', fontsize=LABEL_FS, color=DARK, labelpad=6)

fig.savefig('out.png', dpi=100)
